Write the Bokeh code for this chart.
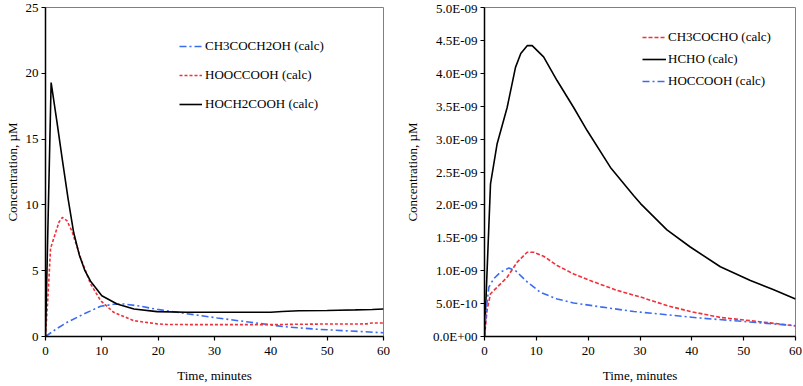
from bokeh.plotting import figure
from bokeh.layouts import row
from bokeh.models import Legend, LegendItem, FixedTicker, CustomJSTickFormatter, Range1d
from bokeh.embed import file_html
from bokeh.resources import INLINE

# ---------------- Left panel data (µM) ----------------
t_hoch2cooh = [0, 1.0, 2, 3, 4, 5, 6, 7, 8, 10, 12.7, 15.7, 19.8, 25, 30, 35, 40, 42, 45, 50, 52, 55, 58, 60]
c_hoch2cooh = [0, 19.3, 16.4, 13.4, 10.5, 7.9, 6.2, 5.0, 4.2, 3.1, 2.47, 2.09, 1.89, 1.84, 1.84, 1.84, 1.84, 1.9, 1.96, 1.98, 2.0, 2.02, 2.05, 2.09]

t_hooccooh = [0, 0.5, 0.9, 1.8, 2.4, 3.0, 3.8, 4.7, 6.2, 8.0, 9.8, 12.1, 15.7, 19.8, 21.6, 30, 40, 45, 50, 55, 57, 58, 60]
c_hooccooh = [0, 3.5, 6.7, 7.9, 8.7, 9.05, 8.8, 8.0, 6.0, 4.0, 2.72, 1.84, 1.2, 0.96, 0.91, 0.9, 0.9, 0.93, 0.95, 0.95, 0.96, 1.03, 1.03]

t_ch3coch2oh = [0, 2, 3.85, 6.8, 9.8, 12.1, 13.9, 16.9, 19.8, 24.6, 30.5, 36.4, 42.3, 48.2, 54.1, 60]
c_ch3coch2oh = [0, 0.6, 1.08, 1.71, 2.3, 2.45, 2.47, 2.3, 2.06, 1.76, 1.41, 1.08, 0.75, 0.55, 0.42, 0.28]

# ---------------- Right panel data (µM) ----------------
t_hcho = [0, 0.5, 1.16, 2.44, 4.37, 5.98, 7.0, 8.23, 9.2, 11.4, 14.0, 17.2, 19.8, 24.3, 28.8, 30.1, 35.2, 39.7, 45.5, 51.3, 55.8, 60]
c_hcho = [0, 1.0e-9, 2.32e-9, 2.93e-9, 3.48e-9, 4.09e-9, 4.30e-9, 4.42e-9, 4.42e-9, 4.25e-9, 3.89e-9, 3.48e-9, 3.13e-9, 2.57e-9, 2.14e-9, 2.02e-9, 1.62e-9, 1.36e-9, 1.06e-9, 0.85e-9, 0.71e-9, 0.57e-9]

t_ch3cocho = [0, 0.5, 1.16, 2.44, 4.37, 6.3, 8.23, 9.5, 11.4, 14.0, 17.2, 20.4, 25.6, 30.1, 35.2, 39.7, 45.5, 51.3, 55.8, 60]
c_ch3cocho = [0, 0.40e-9, 0.65e-9, 0.75e-9, 0.90e-9, 1.13e-9, 1.28e-9, 1.28e-9, 1.22e-9, 1.08e-9, 0.95e-9, 0.85e-9, 0.70e-9, 0.60e-9, 0.47e-9, 0.38e-9, 0.29e-9, 0.24e-9, 0.20e-9, 0.16e-9]

t_hoccooh = [0, 0.4, 0.84, 1.8, 3.1, 4.7, 5.98, 8.23, 10.8, 14.0, 17.2, 22.4, 28.8, 35.2, 41.7, 48.1, 54.5, 60]
c_hoccooh = [0, 0.45e-9, 0.75e-9, 0.88e-9, 0.98e-9, 1.04e-9, 1.0e-9, 0.83e-9, 0.67e-9, 0.57e-9, 0.51e-9, 0.45e-9, 0.38e-9, 0.33e-9, 0.28e-9, 0.24e-9, 0.20e-9, 0.165e-9]

left_yticks = [0, 5, 10, 15, 20, 25]
right_yticks = [0, 0.5e-9, 1.0e-9, 1.5e-9, 2.0e-9, 2.5e-9, 3.0e-9, 3.5e-9, 4.0e-9, 4.5e-9, 5.0e-9]
xticks = [0, 10, 20, 30, 40, 50, 60]

FONT = "Liberation Serif"
BLUE = "#3b6cf0"
RED = "#f0303a"


def style(p):
    p.outline_line_color = "#808080"
    p.outline_line_width = 1
    p.grid.visible = False
    p.background_fill_color = "white"
    p.border_fill_color = "white"
    for ax in (p.xaxis[0], p.yaxis[0]):
        ax.axis_line_color = "black"
        ax.axis_line_width = 1.5
        ax.major_tick_line_color = "black"
        ax.major_tick_line_width = 1.2
        ax.major_tick_in = 0
        ax.major_tick_out = 4
        ax.minor_tick_line_color = None
        ax.major_label_text_font = FONT
        ax.major_label_text_font_size = "13px"
        ax.major_label_text_color = "black"
        ax.axis_label_text_font = FONT
        ax.axis_label_text_font_size = "13px"
        ax.axis_label_text_font_style = "normal"
        ax.axis_label_text_color = "black"
        ax.major_label_standoff = 3
    p.xaxis[0].ticker = FixedTicker(ticks=xticks)
    p.xaxis[0].major_label_standoff = 6
    p.xaxis[0].axis_label = "Time, minutes"
    p.xaxis[0].axis_label_standoff = 10
    p.yaxis[0].axis_label = "Concentration, µM"


# ---------------- Left figure ----------------
p1 = figure(width=400, height=386, output_backend="svg", toolbar_location=None,
            x_range=Range1d(0, 60), y_range=Range1d(0, 25),
            min_border_left=45, min_border_right=17, min_border_top=7, min_border_bottom=50)
style(p1)
p1.yaxis[0].ticker = FixedTicker(ticks=left_yticks)
p1.yaxis[0].axis_label_standoff = 3

l_blue = p1.line(t_ch3coch2oh, c_ch3coch2oh, line_color=BLUE, line_width=1.6, line_dash="7 3 2 3")
l_red = p1.line(t_hooccooh, c_hooccooh, line_color=RED, line_width=1.6, line_dash="3 2")
l_black = p1.line(t_hoch2cooh, c_hoch2cooh, line_color="black", line_width=1.6)

leg1 = Legend(items=[LegendItem(label="CH3COCH2OH (calc)", renderers=[l_blue]),
                     LegendItem(label="HOOCCOOH (calc)", renderers=[l_red]),
                     LegendItem(label="HOCH2COOH (calc)", renderers=[l_black])],
              location=(134, 222), border_line_color=None, background_fill_alpha=0,
              padding=0, margin=0, spacing=9, label_height=20, glyph_height=20,
              glyph_width=23, label_standoff=3, label_text_font=FONT,
              label_text_font_size="13px", label_text_color="black")
p1.add_layout(leg1, "center")

# ---------------- Right figure ----------------
p2 = figure(width=403, height=386, output_backend="svg", toolbar_location=None,
            x_range=Range1d(0, 60), y_range=Range1d(0, 5e-9),
            min_border_left=84, min_border_right=8, min_border_top=7, min_border_bottom=50)
style(p2)
p2.yaxis[0].ticker = FixedTicker(ticks=right_yticks)
p2.yaxis[0].axis_label_standoff = 10
p2.yaxis[0].formatter = CustomJSTickFormatter(code="""
    if (Math.abs(tick) < 1e-15) { return "0.0E+00"; }
    const s = tick.toExponential(1);
    const parts = s.split("e");
    const e = parseInt(parts[1]);
    const a = Math.abs(e);
    return parts[0] + "E" + (e < 0 ? "-" : "+") + (a < 10 ? "0" : "") + a;
""")

r_red = p2.line(t_ch3cocho, c_ch3cocho, line_color=RED, line_width=1.6, line_dash="4 2")
r_black = p2.line(t_hcho, c_hcho, line_color="black", line_width=1.6)
r_blue = p2.line(t_hoccooh, c_hoccooh, line_color=BLUE, line_width=1.6, line_dash="7 3 2 3")

leg2 = Legend(items=[LegendItem(label="CH3COCHO (calc)", renderers=[r_red]),
                     LegendItem(label="HCHO (calc)", renderers=[r_black]),
                     LegendItem(label="HOCCOOH (calc)", renderers=[r_blue])],
              location=(158, 246), border_line_color=None, background_fill_alpha=0,
              padding=0, margin=0, spacing=4, label_height=18, glyph_height=18,
              glyph_width=24, label_standoff=2, label_text_font=FONT,
              label_text_font_size="13px", label_text_color="black")
p2.add_layout(leg2, "center")

layout = row(p1, p2)
open("out.html", "w").write(file_html(layout, INLINE))
